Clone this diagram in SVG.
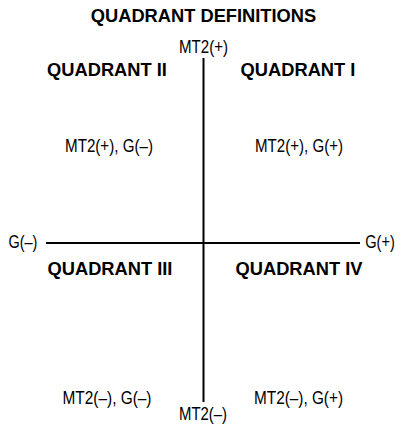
<svg xmlns="http://www.w3.org/2000/svg" width="401" height="427" viewBox="0 0 401 427">
<style>
.t{font-family:"Liberation Sans",Arial,sans-serif;font-size:19px;fill:#000;text-anchor:middle}
.h{font-family:"Liberation Sans",Arial,sans-serif;font-size:18.3px;font-weight:bold;fill:#000;text-anchor:middle}
.ax{stroke:#000;stroke-width:2;fill:none}
</style>
<rect width="401" height="427" fill="#fff"/>
<g id="connectors">
<line class="ax" x1="203.5" y1="58" x2="203.5" y2="402"/>
<line class="ax" x1="46" y1="243" x2="360" y2="243"/>
</g>
<g id="title"><text class="h" x="203.5" y="22">QUADRANT DEFINITIONS</text></g>
<g id="axis-top"><text class="t" x="203.5" y="52.5" textLength="49" lengthAdjust="spacingAndGlyphs">MT2(+)</text></g>
<g id="axis-bottom"><text class="t" x="203" y="420" textLength="48" lengthAdjust="spacingAndGlyphs">MT2(–)</text></g>
<g id="axis-left"><text class="t" transform="translate(23,248) scale(0.76,1)" x="0" y="0">G(–)</text></g>
<g id="axis-right"><text class="t" transform="translate(380,248) scale(0.77,1)" x="0" y="0">G(+)</text></g>
<g id="q2"><text class="h" x="107" y="76">QUADRANT II</text><text class="t" x="109" y="151.5" textLength="88" lengthAdjust="spacingAndGlyphs">MT2(+), G(–)</text></g>
<g id="q1"><text class="h" x="298" y="76">QUADRANT I</text><text class="t" x="299" y="151.5" textLength="88" lengthAdjust="spacingAndGlyphs">MT2(+), G(+)</text></g>
<g id="q3"><text class="h" x="110" y="275">QUADRANT III</text><text class="t" x="107" y="404" textLength="89" lengthAdjust="spacingAndGlyphs">MT2(–), G(–)</text></g>
<g id="q4"><text class="h" x="299" y="275">QUADRANT IV</text><text class="t" x="298.5" y="404" textLength="89" lengthAdjust="spacingAndGlyphs">MT2(–), G(+)</text></g>
</svg>
